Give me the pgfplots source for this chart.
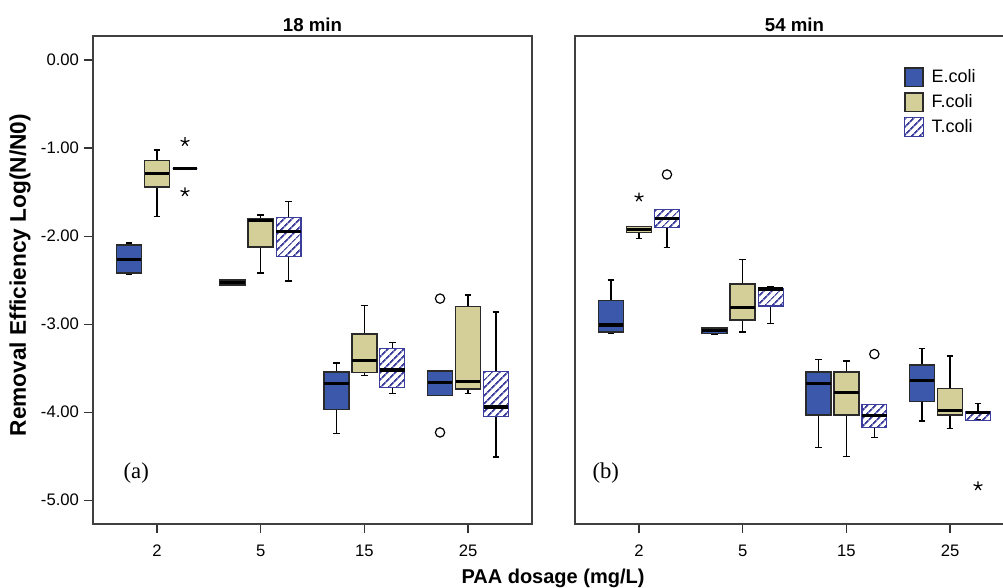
\documentclass[border=0pt]{standalone}
\usepackage{fontspec}
\setmainfont{Liberation Sans}
\newfontfamily\serifont{Liberation Serif}
\usepackage{pgfplots}
\pgfplotsset{compat=1.18}
\usepgfplotslibrary{statistics}
\usetikzlibrary{patterns.meta}
\definecolor{ecol}{HTML}{3C58AA}
\definecolor{fcol}{HTML}{D4CF98}
\definecolor{tcol}{HTML}{3A3D9C}
\definecolor{edgec}{HTML}{2A2A2A}
\pgfplotsset{
  Ebox/.style={draw=edgec, fill=ecol, line width=1.3pt},
  Fbox/.style={draw=edgec, fill=fcol, line width=1.3pt},
  Tbox/.style={draw=tcol, line width=0.9pt, pattern={Lines[angle=45,distance=4pt,line width=1.4pt]}, pattern color=tcol},
  outl/.style={mark options={draw=black, line width=0.9pt, solid, fill=none}, mark size=3.5pt},
  common/.style={
    scale only axis, width=329.25pt, height=366pt,
    xmin=-0.617, xmax=3.617, ymin=-5.27, ymax=0.273,
    xtick={0,1,2,3}, xticklabels={2,5,15,25},
    xtick pos=bottom, ytick pos=left, tick align=outside,
    major tick length=7pt,
    tick style={draw=black!80, line width=0.9pt},
    axis line style={draw=black!75, line width=1pt},
    ticklabel style={font=\fontsize{12.5}{14}\selectfont},
    xticklabel style={yshift=-5pt},
    /pgf/number format/assume math mode=true,
    title style={font=\bfseries\fontsize{14}{16}\selectfont, yshift=-6pt},
    boxplot/draw direction=y,
    boxplot/box extend=0.24,
    boxplot/whisker extend=0.065,
    boxplot/every median/.style={draw=black, line width=2.4pt},
    boxplot/every whisker/.style={draw=black, line width=1.05pt, solid},
  },
}
\begin{document}
\begin{tikzpicture}
\begin{axis}[common, at={(69.75pt,48pt)}, anchor=south west, title={18 min},
  ytick={-5,-4,-3,-2,-1,0},
  yticklabel style={/pgf/number format/.cd, fixed, fixed zerofill, precision=2},
  ylabel={Removal Efficiency Log(N/N0)},
  ylabel style={font=\bfseries\fontsize{17}{20}\selectfont, at={(axis description cs:-0.166,0.51)}, anchor=center},
]
% dosage 2
\addplot[Ebox, forget plot, boxplot prepared={draw position=-0.27, lower whisker=-2.435, lower quartile=-2.42, median=-2.265, upper quartile=-2.10, upper whisker=-2.08}] coordinates {};
\addplot[Fbox, forget plot, boxplot prepared={draw position=0, lower whisker=-1.78, lower quartile=-1.44, median=-1.29, upper quartile=-1.14, upper whisker=-1.02}] coordinates {};
\addplot[Tbox, outl, mark=star, forget plot, boxplot prepared={draw position=0.27, lower whisker=-1.23, lower quartile=-1.23, median=-1.23, upper quartile=-1.23, upper whisker=-1.23}] table[row sep=\\, y index=0] {v\\ -0.93\\ -1.50\\};
% dosage 5
\addplot[Ebox, forget plot, boxplot prepared={draw position=0.73, lower whisker=-2.56, lower quartile=-2.558, median=-2.53, upper quartile=-2.502, upper whisker=-2.50}] coordinates {};
\addplot[Fbox, forget plot, boxplot prepared={draw position=1, lower whisker=-2.42, lower quartile=-2.12, median=-1.82, upper quartile=-1.80, upper whisker=-1.76}] coordinates {};
\addplot[Tbox, forget plot, boxplot prepared={draw position=1.27, lower whisker=-2.51, lower quartile=-2.23, median=-1.95, upper quartile=-1.79, upper whisker=-1.61}] coordinates {};
% dosage 15
\addplot[Ebox, forget plot, boxplot prepared={draw position=1.73, lower whisker=-4.24, lower quartile=-3.97, median=-3.67, upper quartile=-3.545, upper whisker=-3.44}] coordinates {};
\addplot[Fbox, forget plot, boxplot prepared={draw position=2, lower whisker=-3.58, lower quartile=-3.55, median=-3.41, upper quartile=-3.11, upper whisker=-2.79}] coordinates {};
\addplot[Tbox, forget plot, boxplot prepared={draw position=2.27, lower whisker=-3.79, lower quartile=-3.72, median=-3.52, upper quartile=-3.28, upper whisker=-3.21}] coordinates {};
% dosage 25
\addplot[Ebox, outl, mark=o, forget plot, boxplot prepared={draw position=2.73, lower whisker=-3.81, lower quartile=-3.81, median=-3.66, upper quartile=-3.53, upper whisker=-3.53}] table[row sep=\\, y index=0] {v\\ -2.71\\ -4.23\\};
\addplot[Fbox, forget plot, boxplot prepared={draw position=3, lower whisker=-3.79, lower quartile=-3.74, median=-3.655, upper quartile=-2.80, upper whisker=-2.67}] coordinates {};
\addplot[Tbox, forget plot, boxplot prepared={draw position=3.27, lower whisker=-4.51, lower quartile=-4.05, median=-3.94, upper quartile=-3.54, upper whisker=-2.86}] coordinates {};
\node[font=\serifont\fontsize{17}{20}\selectfont] at (axis cs:-0.2,-4.69) {(a)};
\end{axis}

\begin{axis}[common, at={(431.25pt,48pt)}, anchor=south west, title={54 min},
  ytick=\empty,
  legend image code/.code={\draw[#1] (0pt,-7pt) rectangle (14pt,7pt); \path (18pt,0pt);},
  legend style={draw=none, fill=none, at={(axis description cs:0.749,0.9365)}, anchor=north west,
    font=\fontsize{13.5}{15}\selectfont, row sep=3.5pt, inner sep=0pt, outer sep=0pt,
    nodes={inner sep=1.5pt}, cells={anchor=west}},
]
\addlegendimage{draw=edgec, fill=ecol, line width=1.3pt}
\addlegendentry{E.coli}
\addlegendimage{draw=edgec, fill=fcol, line width=1.3pt}
\addlegendentry{F.coli}
\addlegendimage{draw=tcol, line width=0.9pt, pattern={Lines[angle=45,distance=4pt,line width=1.4pt]}, pattern color=tcol}
\addlegendentry{T.coli}
% dosage 2
\addplot[Ebox, forget plot, boxplot prepared={draw position=-0.27, lower whisker=-3.10, lower quartile=-3.09, median=-3.01, upper quartile=-2.73, upper whisker=-2.50}] coordinates {};
\addplot[Fbox, outl, mark=star, forget plot, boxplot prepared={draw position=0, lower whisker=-2.03, lower quartile=-1.96, median=-1.925, upper quartile=-1.89, upper whisker=-1.89}] table[row sep=\\, y index=0] {v\\ -1.56\\};
\addplot[Tbox, outl, mark=o, forget plot, boxplot prepared={draw position=0.27, lower whisker=-2.13, lower quartile=-1.905, median=-1.80, upper quartile=-1.70, upper whisker=-1.70}] table[row sep=\\, y index=0] {v\\ -1.30\\};
% dosage 5
\addplot[Ebox, forget plot, boxplot prepared={draw position=0.73, lower whisker=-3.11, lower quartile=-3.105, median=-3.07, upper quartile=-3.04, upper whisker=-3.04}] coordinates {};
\addplot[Fbox, forget plot, boxplot prepared={draw position=1, lower whisker=-3.09, lower quartile=-2.955, median=-2.81, upper quartile=-2.54, upper whisker=-2.265}] coordinates {};
\addplot[Tbox, forget plot, boxplot prepared={draw position=1.27, lower whisker=-2.99, lower quartile=-2.795, median=-2.60, upper quartile=-2.595, upper whisker=-2.57}] coordinates {};
% dosage 15
\addplot[Ebox, forget plot, boxplot prepared={draw position=1.73, lower whisker=-4.40, lower quartile=-4.03, median=-3.67, upper quartile=-3.54, upper whisker=-3.40}] coordinates {};
\addplot[Fbox, forget plot, boxplot prepared={draw position=2, lower whisker=-4.50, lower quartile=-4.03, median=-3.78, upper quartile=-3.54, upper whisker=-3.42}] coordinates {};
\addplot[Tbox, outl, mark=o, forget plot, boxplot prepared={draw position=2.27, lower whisker=-4.29, lower quartile=-4.17, median=-4.04, upper quartile=-3.91, upper whisker=-3.91}] table[row sep=\\, y index=0] {v\\ -3.34\\};
% dosage 25
\addplot[Ebox, forget plot, boxplot prepared={draw position=2.73, lower whisker=-4.10, lower quartile=-3.88, median=-3.64, upper quartile=-3.46, upper whisker=-3.28}] coordinates {};
\addplot[Fbox, forget plot, boxplot prepared={draw position=3, lower whisker=-4.185, lower quartile=-4.03, median=-3.985, upper quartile=-3.73, upper whisker=-3.36}] coordinates {};
\addplot[Tbox, outl, mark=star, forget plot, boxplot prepared={draw position=3.27, lower whisker=-4.09, lower quartile=-4.09, median=-4.00, upper quartile=-3.99, upper whisker=-3.90}] table[row sep=\\, y index=0] {v\\ -4.84\\};
\node[font=\serifont\fontsize{17}{20}\selectfont] at (axis cs:-0.32,-4.69) {(b)};
\end{axis}
\node[font=\bfseries\fontsize{15}{18}\selectfont] at (414.75pt,7.5pt) {PAA dosage (mg/L)};
\pgfresetboundingbox
\path[use as bounding box] (0,0) rectangle (752.25pt,441pt);
\end{tikzpicture}
\end{document}
